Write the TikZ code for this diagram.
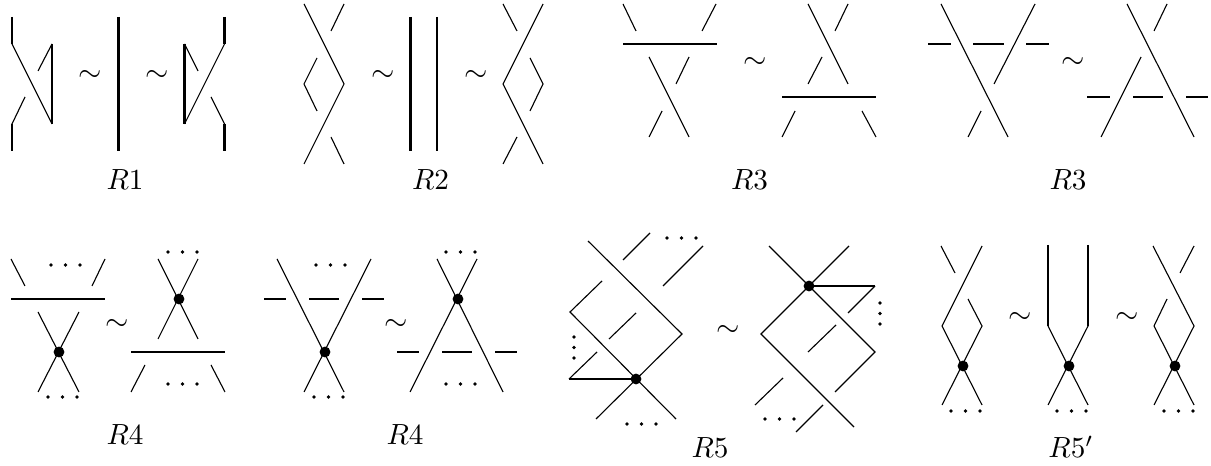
\documentclass[tikz,border=0pt]{standalone}
\tikzset{
  strand/.style={line width=.4pt},
  bar/.style={line width=.72pt},
  heavybar/.style={line width=1.05pt},
  tildelabel/.style={inner sep=0pt,scale=1.08},
  movelabel/.style={anchor=base,inner sep=0pt,scale=1.05}
}
\begin{document}
\begin{tikzpicture}[x=.36pt,y=-.36pt]
  \useasboundingbox (0,0) rectangle (1211,466);
  % R1
  \draw[bar] (12,17)--(12,44);
  \draw[strand] (12,44)--(52,124);
  \draw[bar] (52,44)--(52,124);
  \draw[strand] (52,44)--(38,71);
  \draw[strand] (25,97)--(12,124);
  \draw[bar] (12,124)--(12,151);
  \node[tildelabel] (sim1a) at (90,76) {\(\sim\)};
  \draw[heavybar] (118.5,17)--(118.5,151);
  \node[tildelabel] (sim1b) at (157,76) {\(\sim\)};
  \draw[heavybar] (224.5,17)--(224.5,44);
  \draw[strand] (224.5,44)--(184.5,124);
  \draw[heavybar] (184.5,44)--(184.5,124);
  \draw[strand] (184.5,44)--(198,71);
  \draw[strand] (211,97)--(224.5,124);
  \draw[heavybar] (224.5,124)--(224.5,151);
  \node[movelabel] (r1) at (125,190) {\(R1\)};
  % R2
  \draw[strand] (304,4)--(344,84)--(304,164);
  \draw[strand] (344,4)--(331,31);
  \draw[strand] (317,58)--(304,84)--(317,111);
  \draw[strand] (331,137)--(344,164);
  \node[tildelabel] (sim2a) at (383,76) {\(\sim\)};
  \draw[heavybar] (410.5,17)--(410.5,151);
  \draw[bar] (437,17)--(437,151);
  \node[tildelabel] (sim2b) at (476,76) {\(\sim\)};
  \draw[strand] (543,4)--(503,84)--(543,164);
  \draw[strand] (503,4)--(517,31);
  \draw[strand] (530,58)--(543,84)--(530,111);
  \draw[strand] (517,137)--(503,164);
  \node[movelabel] (r2) at (430.5,190) {\(R2\)};
  % R3, strand on top
  \draw[strand] (623,4)--(636,31);
  \draw[strand] (716,4)--(702,31);
  \draw[bar] (623,44)--(717,44);
  \draw[strand] (649,57)--(689,137);
  \draw[strand] (689,57)--(676,84);
  \draw[strand] (662,111)--(649,137);
  \node[tildelabel] (sim3) at (755,63) {\(\sim\)};
  \draw[strand] (808,4)--(848,84);
  \draw[strand] (848,4)--(835,31);
  \draw[strand] (822,57)--(808,84);
  \draw[bar] (782,97)--(876,97);
  \draw[strand] (782,137)--(795,111);
  \draw[strand] (876,137)--(862,111);
  \node[movelabel] (r3a) at (749.5,190) {\(R3\)};
  % R3, strand below
  \draw[strand] (941,4)--(1008,137);
  \draw[strand] (1035,4)--(994,84);
  \draw[strand] (968,137)--(981,111);
  \draw[bar] (928,44)--(951,44);
  \draw[bar] (973,44)--(1004,44);
  \draw[bar] (1026,44)--(1049,44);
  \node[tildelabel] (sim4) at (1073,63) {\(\sim\)};
  \draw[strand] (1127,4)--(1194,137);
  \draw[strand] (1167,4)--(1154,31);
  \draw[strand] (1141,57)--(1101,137);
  \draw[bar] (1087,97)--(1110,97);
  \draw[bar] (1133,97)--(1163,97);
  \draw[bar] (1186,97)--(1208,97);
  \node[movelabel] (r3b) at (1068,190) {\(R3\)};
  % R4, strand on top
  \draw[strand] (11,259)--(25,286);
  \draw[strand] (105,259)--(92,286);
  \draw[bar] (11,299)--(105,299);
  \draw[strand] (38,312)--(79,392);
  \draw[strand] (79,312)--(38,392);
  \fill (59,352) circle (1.95pt);
  \node[tildelabel] (sim5) at (117,325) {\(\sim\)};
  \draw[strand] (158,259)--(198,339);
  \draw[strand] (198,259)--(158,339);
  \fill (179,299) circle (1.95pt);
  \draw[bar] (131,352)--(225,352);
  \draw[strand] (131,392)--(145,365);
  \draw[strand] (225,392)--(211,365);
  \node[movelabel] (r4a) at (125,445) {\(R4\)};
  % R4, strand below
  \draw[strand] (277,259)--(344,392);
  \draw[strand] (371,259)--(304,392);
  \fill (325,352) circle (1.95pt);
  \draw[bar] (264,299)--(286,299);
  \draw[bar] (309,299)--(339,299);
  \draw[bar] (362,299)--(384,299);
  \node[tildelabel] (sim6) at (396,325) {\(\sim\)};
  \draw[strand] (437,259)--(503,392);
  \draw[strand] (477,259)--(410,392);
  \fill (458,299) circle (1.95pt);
  \draw[bar] (397,352)--(419,352);
  \draw[bar] (442,352)--(472,352);
  \draw[bar] (495,352)--(517,352);
  \node[movelabel] (r4b) at (405,445) {\(R4\)};
  % R5
  \draw[strand] (588,241)--(682,334)--(596,419);
  \draw[strand] (623,260)--(650,233);
  \draw[strand] (663,286)--(703,246);
  \draw[strand] (602,281)--(570,312)--(676,419);
  \draw[strand] (636,313)--(609,339);
  \draw[strand] (597,352)--(569,379);
  \draw[bar] (569,379)--(636,379);
  \fill (636,379) circle (1.95pt);
  \node[tildelabel] (sim7) at (728,331) {\(\sim\)};
  \draw[strand] (769,246)--(875,352)--(835,392);
  \draw[strand] (849,246)--(761,334)--(854,427);
  \draw[bar] (809,286)--(875,286);
  \draw[strand] (875,286)--(848,313);
  \draw[strand] (836,325)--(808,352);
  \draw[strand] (783,378)--(755,405);
  \draw[strand] (823,405)--(796,432);
  \fill (809,286) circle (1.95pt);
  \node[movelabel] (r5) at (710,458) {\(R5\)};
  % R5 prime
  \draw[strand] (941,246)--(955,273);
  \draw[strand] (982,246)--(942,326)--(982,405);
  \draw[strand] (968,299)--(982,326)--(942,405);
  \fill (963,366) circle (1.95pt);
  \node[tildelabel] (sim8a) at (1020,318) {\(\sim\)};
  \draw[bar] (1048,245)--(1048,326);
  \draw[bar] (1088,245)--(1088,326);
  \draw[strand] (1048,326)--(1088,405);
  \draw[strand] (1088,326)--(1048,405);
  \fill (1069,366) circle (1.95pt);
  \node[tildelabel] (sim8b) at (1127,318) {\(\sim\)};
  \draw[strand] (1153,246)--(1194,326)--(1154,405);
  \draw[strand] (1194,246)--(1180,273);
  \draw[strand] (1167,299)--(1154,326)--(1194,405);
  \fill (1175,366) circle (1.95pt);
  \node[movelabel] (r5p) at (1071,458) {\(R5'\)};
  % dotted rows
  \foreach \px/\py in {51/265,48/397,168/252,168/384,316/265,314/397,446/252,446/384,
                       667/238,627/424,765/419,951/411,1057/411,1164/411}
    {
      \fill (\px,\py) circle (.7pt);
      \fill (\px+14.5,\py) circle (.7pt);
      \fill (\px+29,\py) circle (.7pt);
    }
  \foreach \px/\py in {574/337,880/303}
    {
      \fill (\px,\py) circle (.7pt);
      \fill (\px,\py+10.5) circle (.7pt);
      \fill (\px,\py+21) circle (.7pt);
    }
\end{tikzpicture}
\end{document}
